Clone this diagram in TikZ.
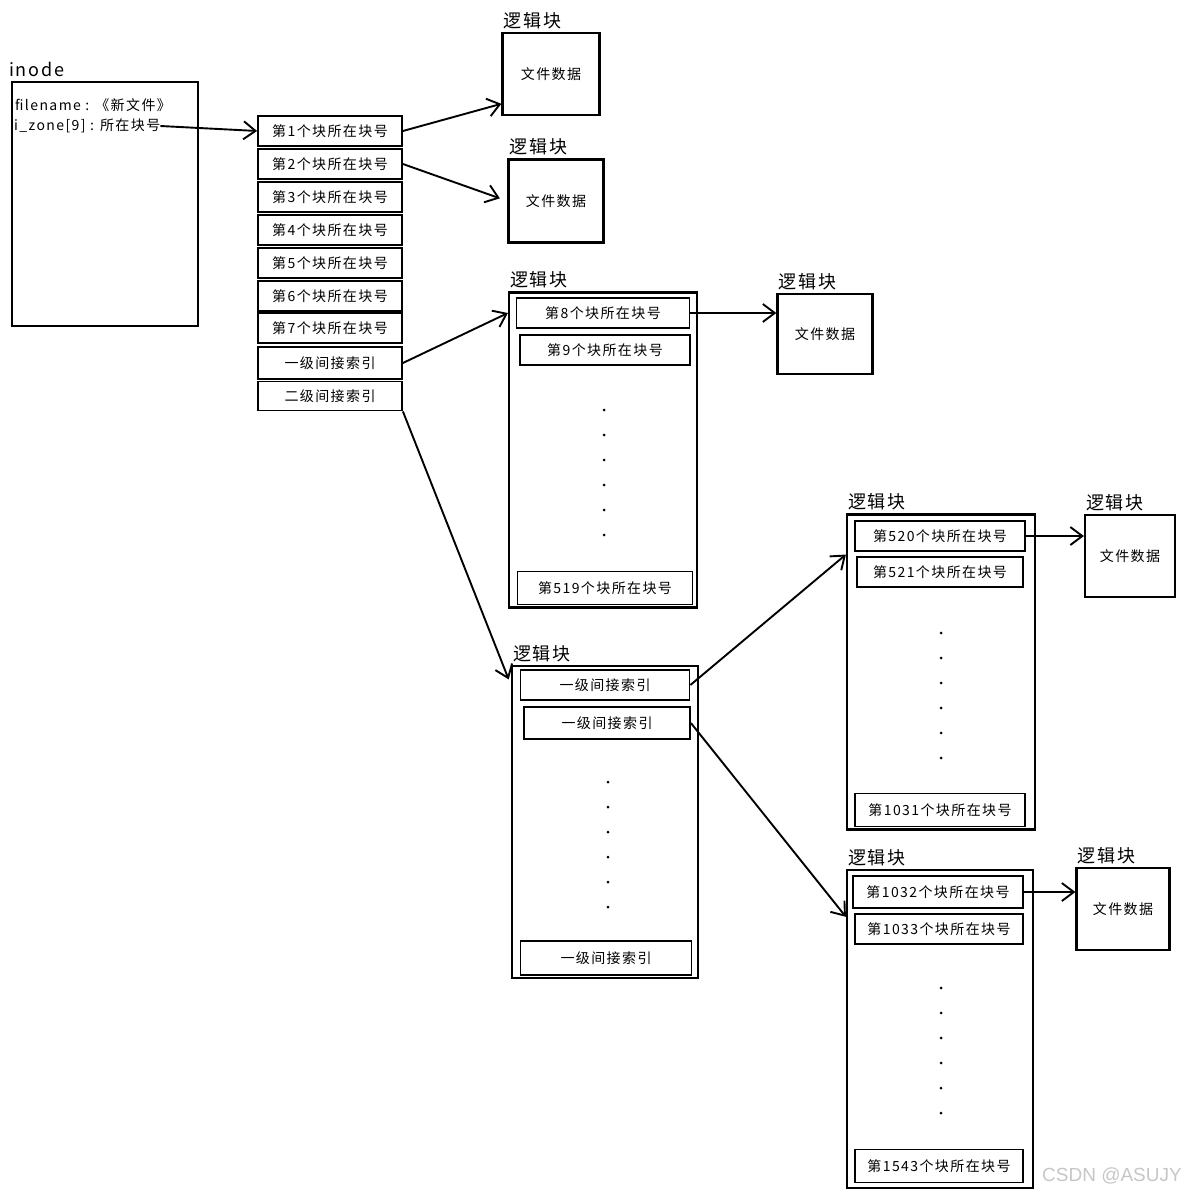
\documentclass[tikz,border=0pt]{standalone}
\usepackage{fontspec}
\setmainfont{Noto Sans CJK SC}
\newfontfamily\sketchfont[LetterSpace=10]{Noto Sans CJK SC}
\newfontfamily\wmfont{Liberation Sans}
\usetikzlibrary{arrows.meta,positioning}

\tikzset{
  box/.style={draw, line width=2.2pt, inner sep=0pt},
  cell/.style={draw, line width=1.8pt, minimum height=30pt, inner sep=0pt,
               font=\sketchfont\fontsize{14}{14}\selectfont},
  data/.style={box, font=\sketchfont\fontsize{14}{14}\selectfont},
  lbl/.style={inner sep=0pt, font=\sketchfont\fontsize{18}{18}\selectfont},
  txt/.style={inner sep=0pt, font=\sketchfont\fontsize{14}{14}\selectfont},
  link/.style={line width=1.9pt, -{Straight Barb[length=12pt,width=18pt,line width=1.9pt]}},
}

\begin{document}
\begin{tikzpicture}[x=1pt,y=-1pt]
  \useasboundingbox (0,0) rectangle (1185,1196);

  % inode
  \node[box, minimum width=186pt, minimum height=244pt] (inode) at (105,204) {};
  \node[lbl, above right=4pt and -2pt of inode.north west] (inodelbl) {inode};
  \node[txt, anchor=west] (fname) at (15,105) {filename : 《新文件》};
  \node[txt, anchor=west] (izone) at (14,126) {i\_zone[9] : 所在块号};

  % direct block numbers
  \foreach \i/\y in {1/131,2/164,3/197,4/230,5/263,6/296,7/328}
    \node[cell, minimum width=144pt] (s\i) at (330,\y) {第\i 个块所在块号};
  \node[cell, minimum width=144pt, minimum height=32pt] (sI1) at (330,363) {一级间接索引};
  \node[cell, minimum width=144pt, minimum height=29pt] (sI2) at (330,396) {二级间接索引};

  % data blocks
  \node[data, minimum width=97pt, minimum height=82pt] (data1) at (551,74) {文件数据};
  \node[data, minimum width=95pt, minimum height=83pt] (data2) at (556,201) {文件数据};
  \node[data, minimum width=95pt, minimum height=80pt] (data3) at (825,334) {文件数据};
  \node[data, minimum width=90pt, minimum height=82pt] (data4) at (1130,556) {文件数据};
  \node[data, minimum width=93pt, minimum height=82pt] (data5) at (1123,909) {文件数据};

  % index blocks
  \node[box, minimum width=188pt, minimum height=315pt] (blkA) at (603,450) {};
  \node[box, minimum width=186pt, minimum height=312pt] (blkB) at (605,822) {};
  \node[box, minimum width=188pt, minimum height=315pt] (blkC) at (941,672) {};
  \node[box, minimum width=186pt, minimum height=318pt] (blkD) at (940,1029) {};

  \foreach \n in {data1,data2,data3,data4,data5,blkA,blkB,blkC,blkD}
    \node[lbl, above right=3pt and 2pt of \n.north west] (\n lbl) {逻辑块};

  \node[cell, minimum width=173pt] (a8) at (603,313) {第8个块所在块号};
  \node[cell, minimum width=170pt] (a9) at (605,350) {第9个块所在块号};
  \node[cell, minimum width=175pt, minimum height=33pt] (a519) at (605,588) {第519个块所在块号};

  \node[cell, minimum width=169pt] (b1) at (605,685) {一级间接索引};
  \node[cell, minimum width=166pt, minimum height=32pt] (b2) at (607,723) {一级间接索引};
  \node[cell, minimum width=171pt, minimum height=34pt] (bn) at (606,958) {一级间接索引};

  \node[cell, minimum width=170pt] (c520) at (940,536) {第520个块所在块号};
  \node[cell, minimum width=166pt] (c521) at (940,572) {第521个块所在块号};
  \node[cell, minimum width=170pt, minimum height=33pt] (c1031) at (940,810) {第1031个块所在块号};

  \node[cell, minimum width=170pt, minimum height=32pt] (d1032) at (938,892) {第1032个块所在块号};
  \node[cell, minimum width=168pt] (d1033) at (939,929) {第1033个块所在块号};
  \node[cell, minimum width=168pt, minimum height=33pt] (d1543) at (939,1166) {第1543个块所在块号};

  % dots
  \foreach \y in {410,435,460,485,510,535} \fill (604,\y) circle (1.5);
  \foreach \y in {782,807,832,857,882,907} \fill (608,\y) circle (1.5);
  \foreach \y in {633,658,683,708,733,758} \fill (941,\y) circle (1.5);
  \foreach \y in {988,1013,1038,1063,1088,1113} \fill (941,\y) circle (1.5);

  % links
  \draw[link] (izone.east) -- (s1.west);
  \draw[link] (s1.east) -- (data1.211);
  \draw[link, shorten >=8pt] (s2.east) -- (data2.west);
  \draw[link] (sI1.east) -- (blkA.west |- a8);
  \draw[link] (a8.east) -- (data3.west |- a8);
  \draw[link, shorten >=6pt] (sI2.south east) -- (blkB.west |- b1);
  \draw[link] (b1.east) -- (blkC.129);
  \draw[link] (b2.east) -- (blkD.130);
  \draw[link] (c520.east) -- (data4.west |- c520);
  \draw[link] (d1032.east) -- (data5.west |- d1032);

  \node[anchor=east, inner sep=0pt, text=gray!45, font=\wmfont\fontsize{19}{19}\selectfont] (wm) at (1182,1176) {CSDN @ASUJY};
\end{tikzpicture}
\end{document}
